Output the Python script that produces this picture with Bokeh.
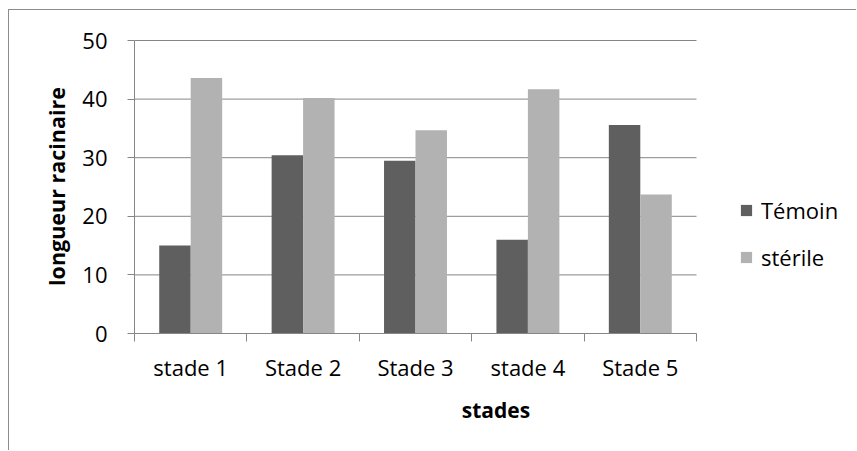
from bokeh.plotting import figure
from bokeh.models import Range1d, FixedTicker, Legend, LegendItem
from bokeh.embed import file_html
from bokeh.resources import INLINE

# ---- data ----
categories = ["stade 1", "Stade 2", "Stade 3", "stade 4", "Stade 5"]
temoin = [15.0, 30.4, 29.5, 16.0, 35.6]
sterile = [43.6, 40.2, 34.7, 41.7, 23.7]
series_names = ["Témoin", "stérile"]
y_ticks = [0, 10, 20, 30, 40, 50]

DARK = "#5f5f5f"
LIGHT = "#b2b2b2"
GRID = "#868686"
FONT = "Open Sans"

n = len(categories)
centers = [i + 0.5 for i in range(n)]
bar_w = 0.28

W, H = 848, 441
LEFT, TOP, BOTTOM = 125, 29, 118
PLOT_PX = 562                      # width of the bar area in pixels
frame_px = W - LEFT                # frame runs to the right edge (legend lives inside it)
x_end = n * frame_px / PLOT_PX
y_top = 50 + 50 / 293              # one pixel of headroom so the 50 gridline is not clipped

p = figure(width=W, height=H, output_backend="svg", toolbar_location=None,
           x_range=Range1d(0, x_end), y_range=Range1d(0, y_top),
           min_border_left=LEFT, min_border_right=0, min_border_top=TOP,
           min_border_bottom=BOTTOM)
p.styles = {"border-left": "1px solid #8c8c8c", "border-top": "1px solid #8c8c8c",
            "margin-left": "8px", "margin-top": "9px"}
p.outline_line_color = None
p.background_fill_color = "white"
p.border_fill_color = "white"

# horizontal gridlines limited to the bar area
p.xgrid.visible = False
p.ygrid.visible = False
p.segment(x0=[0] * len(y_ticks), x1=[n] * len(y_ticks), y0=y_ticks, y1=y_ticks,
          line_color=GRID, line_width=1, level="underlay")

r1 = p.vbar(x=[c - bar_w / 2 for c in centers], top=temoin, width=bar_w,
            fill_color=DARK, line_color=None)
r2 = p.vbar(x=[c + bar_w / 2 for c in centers], top=sterile, width=bar_w,
            fill_color=LIGHT, line_color=None)

# x axis: labels at category centres, ticks at category boundaries
xa = p.xaxis[0]
xa.bounds = (0, n)
xa.ticker = FixedTicker(ticks=centers, minor_ticks=list(range(n + 1)))
xa.major_label_overrides = {c: lab for c, lab in zip(centers, categories)}
xa.major_tick_out = 0
xa.major_tick_in = 0
xa.minor_tick_out = 8
xa.minor_tick_in = 0
xa.minor_tick_line_color = GRID
xa.axis_line_color = GRID
xa.major_label_text_font = FONT
xa.major_label_text_font_size = "22px"
xa.major_label_text_color = "#000000"
xa.major_label_standoff = 10
xa.axis_label = "stades"
xa.axis_label_text_font = FONT
xa.axis_label_text_font_size = "21px"
xa.axis_label_text_font_style = "bold"
xa.axis_label_text_color = "#000000"
xa.axis_label_standoff = 11

ya = p.yaxis[0]
ya.bounds = (0, 50)
ya.ticker = FixedTicker(ticks=y_ticks, minor_ticks=[])
ya.major_tick_out = 7
ya.major_tick_in = 0
ya.major_tick_line_color = GRID
ya.axis_line_color = GRID
ya.major_label_text_font = FONT
ya.major_label_text_font_size = "22px"
ya.major_label_text_color = "#000000"
ya.major_label_standoff = 20
ya.axis_label = "longueur racinaire"
ya.axis_label_text_font = FONT
ya.axis_label_text_font_size = "21.5px"
ya.axis_label_text_font_style = "bold"
ya.axis_label_text_color = "#000000"
ya.axis_label_standoff = 8

legend = Legend(items=[LegendItem(label=series_names[0], renderers=[r1]),
                       LegendItem(label=series_names[1], renderers=[r2])],
                location=(605, 61), orientation="vertical",
                glyph_width=14, glyph_height=14, label_height=20,
                spacing=17, padding=0, margin=0, label_standoff=8,
                border_line_color=None, background_fill_alpha=0,
                label_text_font=FONT, label_text_font_size="22px",
                label_text_color="#000000")
p.add_layout(legend, "center")

open("out.html", "w").write(file_html(p, INLINE))
